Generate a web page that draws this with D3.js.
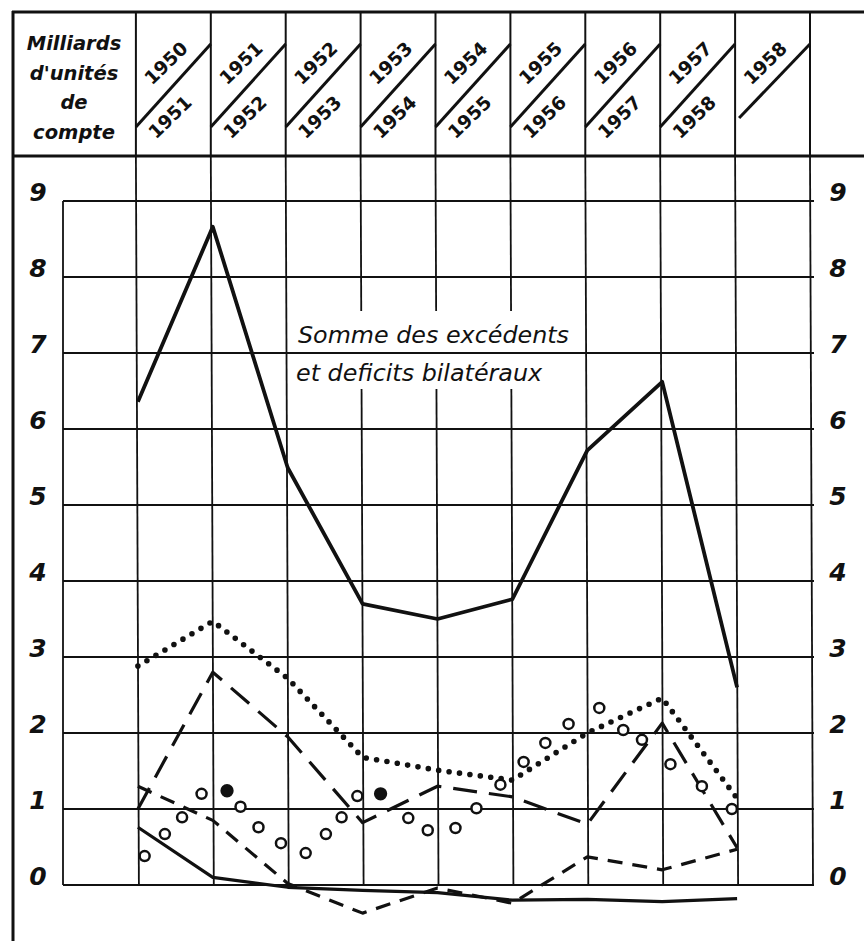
<!DOCTYPE html>
<html><head><meta charset="utf-8">
<script src="https://cdn.jsdelivr.net/npm/d3@7"></script>
<style>body{margin:0;background:#fff} svg{display:block}</style>
</head><body>
<svg id="c" width="864" height="941"></svg>
<script>
// ---- data ----
const periodsTop = ["1950","1951","1952","1953","1954","1955","1956","1957","1958"];
const periodsBottom = ["1951","1952","1953","1954","1955","1956","1957","1958",""];
const yTicks = [0,1,2,3,4,5,6,7,8,9];
const unitLabel = ["Milliards","d'unités","de","compte"];
const annotation = ["Somme des excédents","et deficits bilatéraux"];

const sommeBilateraux = [6.36, 8.66, 5.49, 3.7, 3.5, 3.76, 5.72, 6.62, 2.6];
const seriesDotted    = [2.88, 3.47, 2.72, 1.68, 1.51, 1.38, 2.0, 2.46, 1.14];
const seriesLongDash  = [1.0, 2.8, 1.95, 0.82, 1.3, 1.16, 0.8, 2.13, 0.49];
const seriesShortDash = [1.3, 0.85, 0.02, -0.37, -0.04, -0.24, 0.37, 0.2, 0.47];
const seriesThin      = [0.76, 0.1, -0.03, -0.07, -0.1, -0.2, -0.19, -0.22, -0.18];

// circles: position (fractional period index) and value, filled flag
const circleIdx = [0.09,0.36,0.59,0.85,1.19,1.37,1.61,1.91,2.24,2.51,2.72,2.93,3.24,3.61,3.87,4.24,4.52,4.84,5.15,5.44,5.75,6.16,6.48,6.73,7.11,7.53,7.93];
const circleVal = [0.38,0.67,0.89,1.20,1.24,1.03,0.76,0.55,0.42,0.67,0.89,1.17,1.20,0.88,0.72,0.75,1.01,1.32,1.62,1.87,2.12,2.33,2.04,1.91,1.59,1.30,1.00];
const circleFilled = [0,0,0,0,1,0,0,0,0,0,0,0,1,0,0,0,0,0,0,0,0,0,0,0,0,0,0];

// ---- drawing ----
const svg = d3.select("#c");
svg.append("rect").attr("width",864).attr("height",941).attr("fill","#fff");
const x = d3.scaleLinear().domain([-1, 9]).range([63, 812]);
const y = d3.scaleLinear().domain([0, 9]).range([885, 201]);
const ink = "#111";
const FONT = "'DejaVu Sans', sans-serif";

// frame
const frame = svg.append("g").attr("stroke", ink).attr("fill","none");
frame.append("line").attr("x1",13).attr("x2",13).attr("y1",11).attr("y2",941).attr("stroke-width",3);
frame.append("line").attr("x1",12).attr("x2",864).attr("y1",12).attr("y2",12).attr("stroke-width",3);
frame.append("line").attr("x1",12).attr("x2",864).attr("y1",156).attr("y2",156).attr("stroke-width",3.2);

// header column lines
const colIdx = d3.range(0, 10);
frame.selectAll(".hcol").data(colIdx).join("line")
  .attr("x1", d => x(d)-2).attr("x2", d => x(d)-2).attr("y1", 12).attr("y2", 156).attr("stroke-width", 2);

// vertical grid
const grid = svg.append("g").attr("stroke", ink).attr("stroke-width", 1.8);
grid.selectAll(".v").data(colIdx).join("line")
  .attr("x1", d => x(d)-2).attr("x2", d => x(d)+1).attr("y1", 156).attr("y2", 885);
grid.append("line").attr("x1", x(-1)).attr("x2", x(-1)).attr("y1", y(9)).attr("y2", y(0));

// white block behind annotation (breaks vertical lines)
svg.append("rect").attr("x", 292).attr("y", 311).attr("width", 285).attr("height", 78).attr("fill", "#fff");

// horizontal grid
svg.append("g").attr("stroke", ink).attr("stroke-width", 1.8)
  .selectAll("line").data(yTicks).join("line")
  .attr("x1", x(-1)).attr("x2", x(9)+2).attr("y1", d => y(d)).attr("y2", d => y(d));

// tick labels
const tl = svg.append("g").attr("font-family", FONT).attr("font-style","italic").attr("font-weight","bold")
  .attr("font-size", 25).attr("fill", ink).attr("text-anchor","middle");
tl.selectAll(".l").data(yTicks).join("text").attr("x", 38).attr("y", d => y(d) - 9)
  .attr("dy","0.36em").text(d => d);
tl.selectAll(".r").data(yTicks).join("text").attr("x", 838).attr("y", d => y(d) - 9)
  .attr("dy","0.36em").text(d => d);

// header unit label
svg.append("g").attr("font-family", FONT).attr("font-style","italic").attr("font-weight","bold")
  .attr("font-size", 19.5).attr("fill", ink).attr("text-anchor","middle")
  .selectAll("text").data(unitLabel).join("text")
  .attr("x", 74).attr("y", (d,i) => [50, 80, 109, 139][i]).text(d => d);

// header period cells
const hdr = svg.append("g");
periodsTop.forEach((t, i) => {
  const x0 = x(i) - 2, x1 = x(i+1) - 2;
  const last = periodsBottom[i] === "";
  hdr.append("line").attr("stroke", ink).attr("stroke-width", 3)
    .attr("x1", last ? x0 + 4 : x0).attr("y1", last ? 118 : 127)
    .attr("x2", x1).attr("y2", 44);
  hdr.append("text").attr("font-family", FONT).attr("font-weight","bold").attr("font-size", 18.5).attr("fill", ink)
    .attr("text-anchor","middle").attr("dy","0.36em")
    .attr("transform", `translate(${x0 + 30},${63}) rotate(-44)`).text(t);
  if (!last) hdr.append("text").attr("font-family", FONT).attr("font-weight","bold").attr("font-size", 18.5).attr("fill", ink)
    .attr("text-anchor","middle").attr("dy","0.36em")
    .attr("transform", `translate(${x0 + 34},${117}) rotate(-44)`).text(periodsBottom[i]);
});

// annotation
svg.append("g").attr("font-family", FONT).attr("font-style","italic").attr("font-size", 23.8)
  .attr("fill", ink)
  .selectAll("text").data(annotation).join("text")
  .attr("x", (d,i) => [298, 296][i]).attr("y", (d,i) => [343, 381][i]).text(d => d);

// series
const line = d3.line().x((d,i) => x(i)).y(d => y(d));
const lines = svg.append("g").attr("fill","none").attr("stroke", ink).attr("stroke-linejoin","round");
lines.append("path").datum(sommeBilateraux).attr("d", line).attr("stroke-width", 3.8);
lines.append("path").datum(seriesThin).attr("d", line).attr("stroke-width", 3.2);
lines.append("path").datum(seriesLongDash).attr("d", line).attr("stroke-width", 3.2)
  .attr("stroke-dasharray", "24 12");
lines.append("path").datum(seriesShortDash).attr("d", line).attr("stroke-width", 3.2)
  .attr("stroke-dasharray", "15 10");
lines.append("path").datum(seriesDotted).attr("d", line).attr("stroke-width", 5.6)
  .attr("stroke-linecap","round").attr("stroke-dasharray", "0 10.5");

// circles
svg.append("g").selectAll("circle").data(circleIdx).join("circle")
  .attr("cx", d => x(d)).attr("cy", (d,i) => y(circleVal[i]))
  .attr("r", (d,i) => circleFilled[i] ? 5.4 : 5)
  .attr("fill", (d,i) => circleFilled[i] ? ink : "#fff")
  .attr("stroke", ink).attr("stroke-width", 2.5);
</script>
</body></html>
